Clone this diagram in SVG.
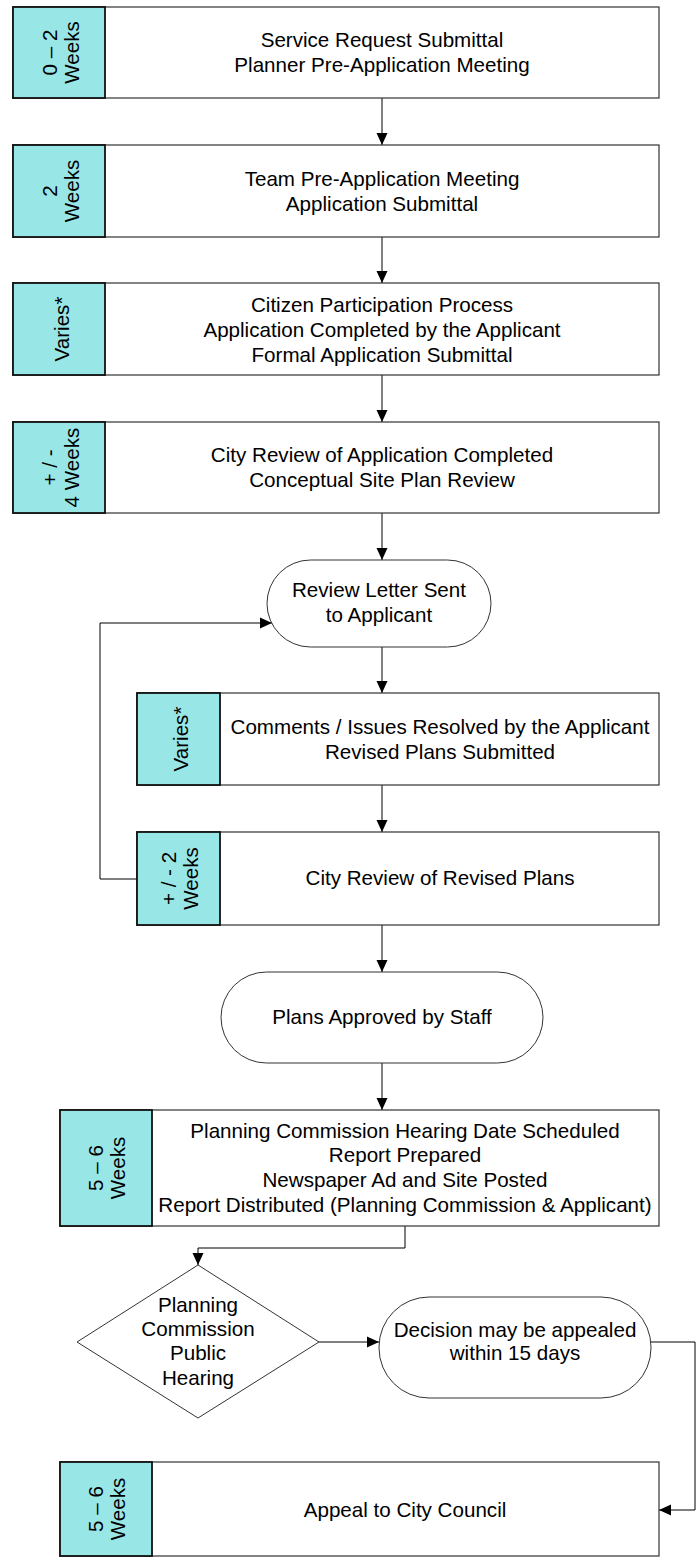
<svg xmlns="http://www.w3.org/2000/svg" width="697" height="1558" viewBox="0 0 697 1558">
<style>
.box{fill:#fff;stroke:#333;stroke-width:1.2}
.tl{fill:#99e6e6;stroke:#111;stroke-width:1.8}
.sh{fill:#fff;stroke:#333;stroke-width:1}
text{font-family:"Liberation Sans",Arial,sans-serif;font-size:20.6px;fill:#000;text-anchor:middle}
.cn{fill:none;stroke:#000;stroke-width:1}
</style>
<defs>
<marker id="ar" markerUnits="userSpaceOnUse" markerWidth="12" markerHeight="12" refX="12" refY="6" orient="auto" viewBox="0 0 12 12">
<path d="M0,0.5 L12,6 L0,11.5 z" fill="#000"/>
</marker>
</defs>
<rect width="697" height="1558" fill="#fff"/>
<g id="connectors" class="cn">
<path class="cn" d="M382,98 V145" marker-end="url(#ar)"/>
<path class="cn" d="M382,237 V283" marker-end="url(#ar)"/>
<path class="cn" d="M382,375 V422" marker-end="url(#ar)"/>
<path class="cn" d="M382,513 V560" marker-end="url(#ar)"/>
<path class="cn" d="M382,647 V693" marker-end="url(#ar)"/>
<path class="cn" d="M382,785 V832" marker-end="url(#ar)"/>
<path class="cn" d="M137,879 H100 V623 H272" marker-end="url(#ar)"/>
<path class="cn" d="M382,925 V972" marker-end="url(#ar)"/>
<path class="cn" d="M382,1063 V1110" marker-end="url(#ar)"/>
<path class="cn" d="M405,1226 V1248 H198 V1265" marker-end="url(#ar)"/>
<path class="cn" d="M319,1342 H379" marker-end="url(#ar)"/>
<path class="cn" d="M651,1342 H695 V1510 H659" marker-end="url(#ar)"/>
</g>
<g id="n1">
<rect class="box" x="13" y="7" width="646" height="91"/>
<rect class="tl" x="13" y="7" width="92" height="91"/>
<text transform="translate(59,52.5) rotate(-90)"><tspan x="0" y="-2">0 – 2</tspan><tspan x="0" y="20">Weeks</tspan></text>
<text x="382" y="47">Service Request Submittal</text>
<text x="382" y="72">Planner Pre-Application Meeting</text>
</g>
<g id="n2">
<rect class="box" x="13" y="145" width="646" height="92"/>
<rect class="tl" x="13" y="145" width="92" height="92"/>
<text transform="translate(59,191) rotate(-90)"><tspan x="0" y="-2">2</tspan><tspan x="0" y="20">Weeks</tspan></text>
<text x="382" y="186">Team Pre-Application Meeting</text>
<text x="382" y="211">Application Submittal</text>
</g>
<g id="n3">
<rect class="box" x="13" y="283" width="646" height="92"/>
<rect class="tl" x="13" y="283" width="92" height="92"/>
<text transform="translate(59,329) rotate(-90)"><tspan x="0" y="10">Varies*</tspan></text>
<text x="382" y="312">Citizen Participation Process</text>
<text x="382" y="337">Application Completed by the Applicant</text>
<text x="382" y="362">Formal Application Submittal</text>
</g>
<g id="n4">
<rect class="box" x="13" y="422" width="646" height="91"/>
<rect class="tl" x="13" y="422" width="92" height="91"/>
<text transform="translate(59,467.5) rotate(-90)"><tspan x="0" y="-2">+ / -</tspan><tspan x="0" y="20">4 Weeks</tspan></text>
<text x="382" y="462">City Review of Application Completed</text>
<text x="382" y="487">Conceptual Site Plan Review</text>
</g>
<g id="n5">
<rect class="sh" x="267" y="560" width="224" height="87" rx="43.5" ry="43.5"/>
<text x="379" y="597">Review Letter Sent</text>
<text x="379" y="622">to Applicant</text>
</g>
<g id="n6">
<rect class="box" x="137" y="693" width="522" height="92"/>
<rect class="tl" x="137" y="693" width="83" height="92"/>
<text transform="translate(178.5,739) rotate(-90)"><tspan x="0" y="9">Varies*</tspan></text>
<text x="440" y="734">Comments / Issues Resolved by the Applicant</text>
<text x="440" y="759">Revised Plans Submitted</text>
</g>
<g id="n7">
<rect class="box" x="137" y="832" width="522" height="93"/>
<rect class="tl" x="137" y="832" width="83" height="93"/>
<text transform="translate(178.5,878.5) rotate(-90)"><tspan x="0" y="-3">+ / - 2</tspan><tspan x="0" y="19">Weeks</tspan></text>
<text x="440" y="885">City Review of Revised Plans</text>
</g>
<g id="n8">
<rect class="sh" x="221" y="972" width="322" height="91" rx="45.5" ry="45.5"/>
<text x="382" y="1024">Plans Approved by Staff</text>
</g>
<g id="n9">
<rect class="box" x="60" y="1110" width="599" height="116"/>
<rect class="tl" x="60" y="1110" width="92" height="116"/>
<text transform="translate(106,1168) rotate(-90)"><tspan x="0" y="-3">5 – 6</tspan><tspan x="0" y="19">Weeks</tspan></text>
<text x="405" y="1138">Planning Commission Hearing Date Scheduled</text>
<text x="405" y="1162">Report Prepared</text>
<text x="405" y="1187">Newspaper Ad and Site Posted</text>
<text x="405" y="1212">Report Distributed (Planning Commission &amp; Applicant)</text>
</g>
<g id="n10">
<path class="sh" d="M198,1265 L319,1342 L198,1418 L77,1342 Z"/>
<text x="198" y="1312">Planning</text>
<text x="198" y="1336">Commission</text>
<text x="198" y="1360">Public</text>
<text x="198" y="1385">Hearing</text>
</g>
<g id="n11">
<rect class="sh" x="379" y="1297" width="272" height="101" rx="50" ry="50"/>
<text x="515" y="1337">Decision may be appealed</text>
<text x="515" y="1360">within 15 days</text>
</g>
<g id="n12">
<rect class="box" x="60" y="1462" width="599" height="94"/>
<rect class="tl" x="60" y="1462" width="92" height="94"/>
<text transform="translate(106,1509) rotate(-90)"><tspan x="0" y="-3">5 – 6</tspan><tspan x="0" y="19">Weeks</tspan></text>
<text x="405" y="1517">Appeal to City Council</text>
</g>
</svg>
